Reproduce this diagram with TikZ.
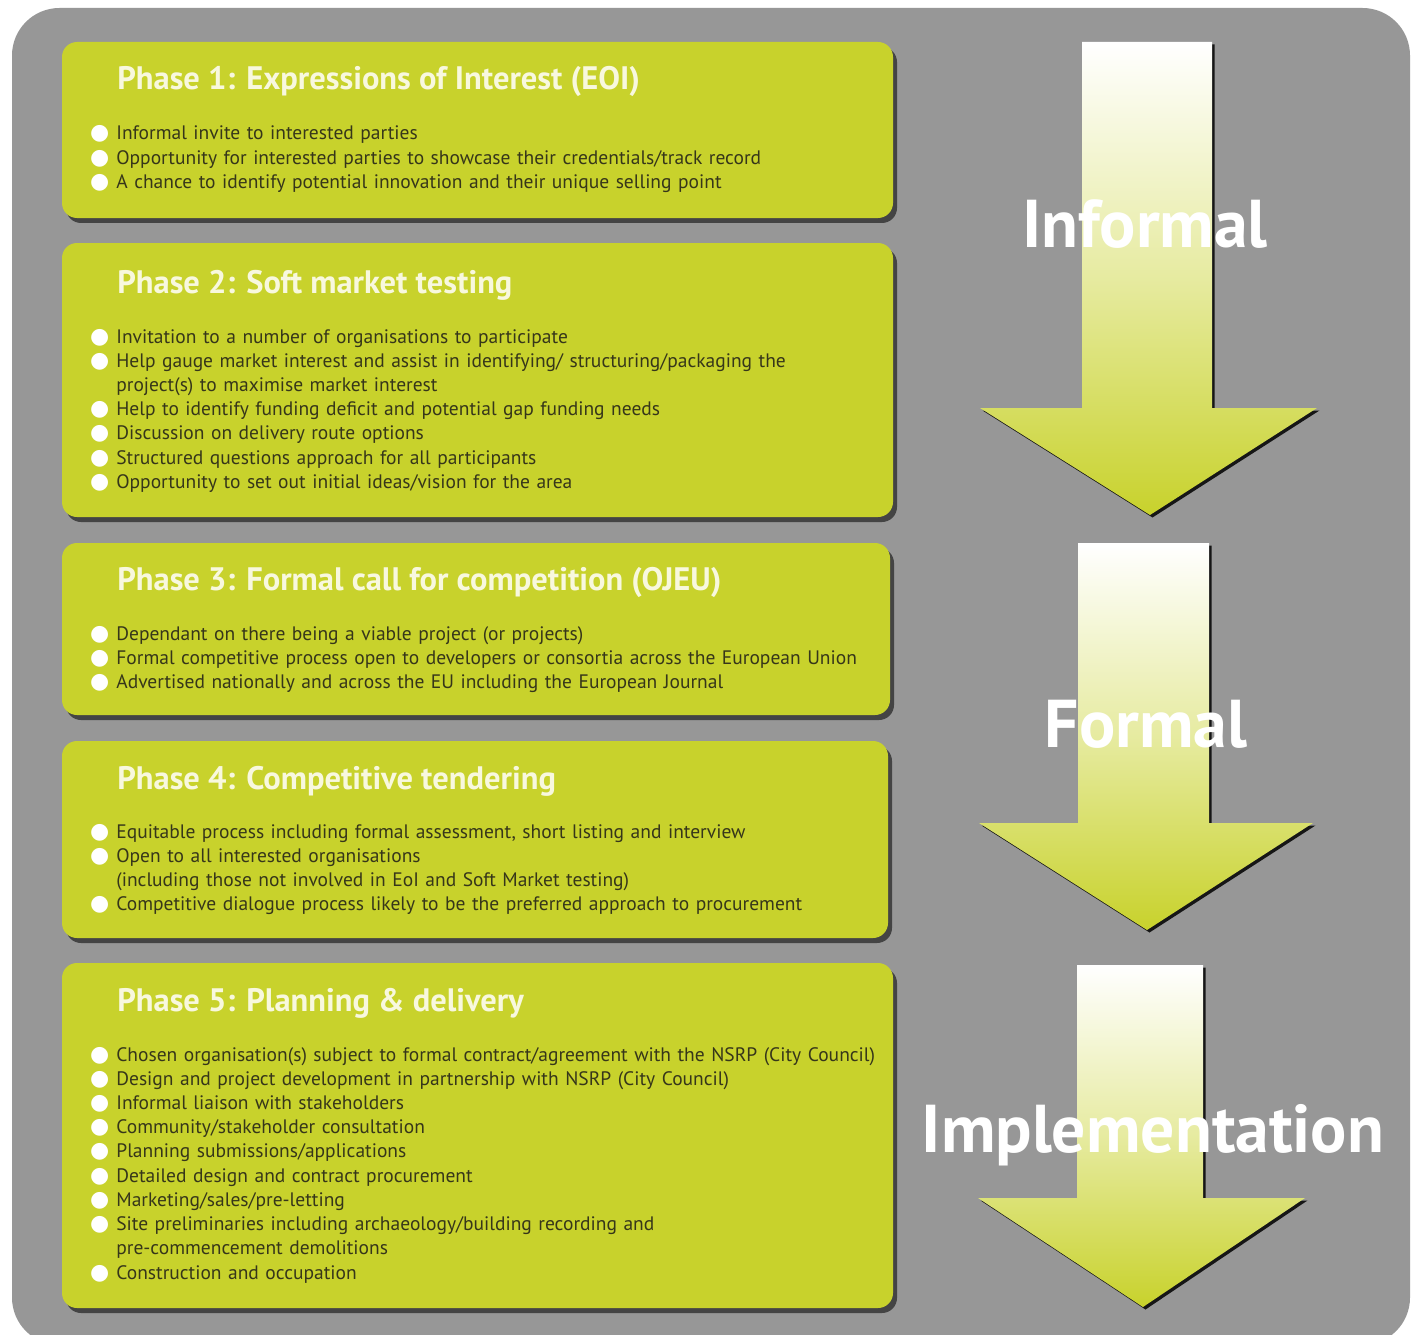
\documentclass[tikz,border=0pt]{standalone}
\usepackage{fontspec}
\setmainfont{PT Sans}
\newfontfamily\bulfont{DejaVu Sans}
\usetikzlibrary{shadows}

\definecolor{bggray}{HTML}{979797}
\definecolor{limegreen}{HTML}{C8D22C}
\definecolor{textdark}{HTML}{36361A}
\definecolor{headwhite}{HTML}{F8F8DE}

% white round bullet in front of each item
\newcommand{\bul}{\leavevmode\llap{\raisebox{0pt}{\bulfont\fontsize{12.5}{12.5}\selectfont\textcolor{white}{●}}\hspace{4pt}}}

\begin{document}
\begin{tikzpicture}[x=0.02cm,y=-0.02cm,
  phase/.style={fill=limegreen,rounded corners=0.3cm,
    drop shadow={shadow xshift=0.08cm,shadow yshift=-0.1cm,opacity=0.55,fill=black}},
  head/.style={anchor=base west,inner sep=0,text=headwhite,font=\fontsize{18.5}{22}\selectfont\bfseries},
  items/.style={anchor=base west,inner sep=0,text width=17cm,align=left,text=textdark,
    font=\fontsize{11.1}{13.8}\selectfont},
  flow/.style={top color=white,bottom color=limegreen,middle color=limegreen!45!white,
    drop shadow={shadow xshift=0.05cm,shadow yshift=-0.05cm,opacity=0.85,fill=black}},
  stage/.style={anchor=base,inner sep=0,text=white,font=\fontsize{38.5}{42}\selectfont\bfseries}]
  \useasboundingbox (0,0) rectangle (1417,1335);
  \fill[white] (0,0) rectangle (1417,1335);
  \fill[bggray,rounded corners=0.95cm] (12,8) rectangle (1410,1345);

  % the five phases
  \path[phase] (62,42) rectangle (893,218);
  \path[phase] (62,243) rectangle (893,517);
  \path[phase] (62,543) rectangle (890,715);
  \path[phase] (62,741) rectangle (888,938);
  \path[phase] (62,963) rectangle (893,1308);

  \node[head] (h1) at (117,90) {Phase 1: Expressions of Interest (EOI)};
  \node[items] (l1) at (116,140) {\bul Informal invite to interested parties\\
    \bul Opportunity for interested parties to showcase their credentials/track record\\
    \bul A chance to identify potential innovation and their unique selling point};

  \node[head] (h2) at (117,293) {Phase 2: Soft market testing};
  \node[items] (l2) at (116,343) {\bul Invitation to a number of organisations to participate\\
    \bul Help gauge market interest and assist in identifying/ structuring/packaging the\\
    project(s) to maximise market interest\\
    \bul Help to identify funding deficit and potential gap funding needs\\
    \bul Discussion on delivery route options\\
    \bul Structured questions approach for all participants\\
    \bul Opportunity to set out initial ideas/vision for the area};

  \node[head] (h3) at (117,590) {Phase 3: Formal call for competition (OJEU)};
  \node[items] (l3) at (116,640) {\bul Dependant on there being a viable project (or projects)\\
    \bul Formal competitive process open to developers or consortia across the European Union\\
    \bul Advertised nationally and across the EU including the European Journal};

  \node[head] (h4) at (117,789) {Phase 4: Competitive tendering};
  \node[items] (l4) at (116,838) {\bul Equitable process including formal assessment, short listing and interview\\
    \bul Open to all interested organisations\\
    (including those not involved in EoI and Soft Market testing)\\
    \bul Competitive dialogue process likely to be the preferred approach to procurement};

  \node[head] (h5) at (117,1011) {Phase 5: Planning \& delivery};
  \node[items] (l5) at (116,1061) {\bul Chosen organisation(s) subject to formal contract/agreement with the NSRP (City Council)\\
    \bul Design and project development in partnership with NSRP (City Council)\\
    \bul Informal liaison with stakeholders\\
    \bul Community/stakeholder consultation\\
    \bul Planning submissions/applications\\
    \bul Detailed design and contract procurement\\
    \bul Marketing/sales/pre-letting\\
    \bul Site preliminaries including archaeology/building recording and\\
    pre-commencement demolitions\\
    \bul Construction and occupation};

  % arrows on the right
  \path[flow] (1082,42) -- (1212,42) -- (1212,408) -- (1317,408) -- (1150,515) -- (980,408) -- (1082,408) -- cycle;
  \path[flow] (1078,543) -- (1209,543) -- (1209,823) -- (1313,823) -- (1147,930) -- (979,823) -- (1078,823) -- cycle;
  \path[flow] (1077,965) -- (1203,965) -- (1203,1198) -- (1305,1198) -- (1143,1307) -- (978,1198) -- (1077,1198) -- cycle;

  \node[stage] (informal) at (1145,247) {Informal};
  \node[stage] (formal) at (1146,747) {Formal};
  \node[stage] (impl) at (1153,1152) {Implementation};
\end{tikzpicture}
\end{document}
